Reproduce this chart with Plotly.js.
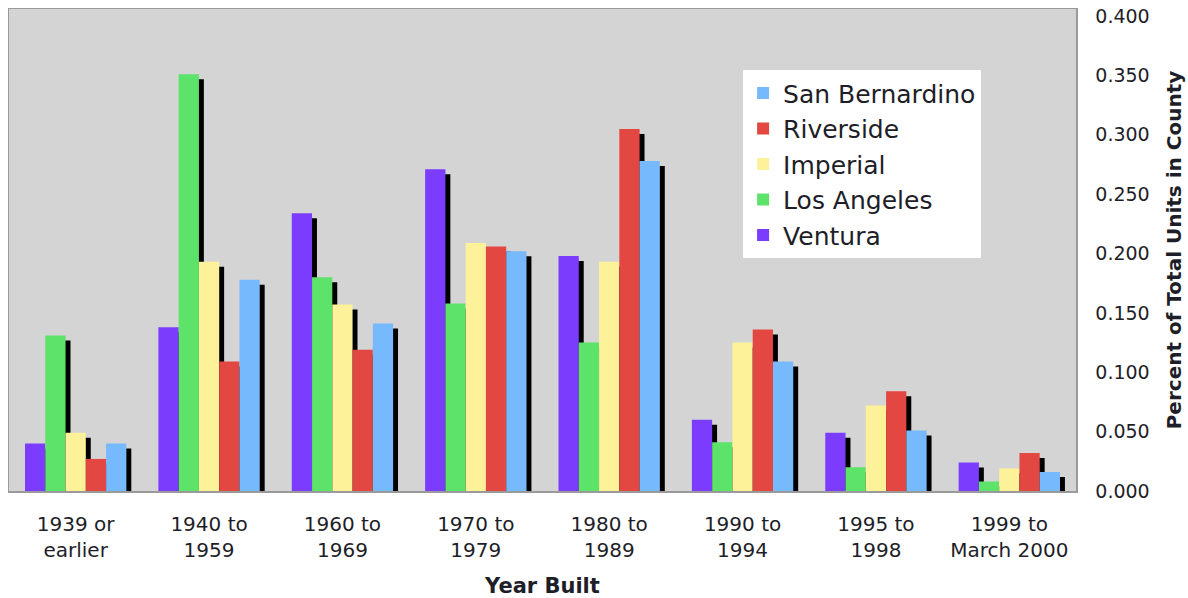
<!DOCTYPE html>
<html>
<head>
<meta charset="utf-8">
<script src="https://cdn.plot.ly/plotly-3.0.1.min.js"></script>
<style>html,body{margin:0;padding:0;background:#fff;}#chart{width:1188px;height:598px;}</style>
</head>
<body>
<div id="chart"></div>
<script>
const categories = ["1939 or<br>earlier", "1940 to<br>1959", "1960 to<br>1969", "1970 to<br>1979", "1980 to<br>1989", "1990 to<br>1994", "1995 to<br>1998", "1999 to<br>March 2000"];
const ventura       = [0.040, 0.138, 0.234, 0.271, 0.198, 0.060, 0.049, 0.024];
const losAngeles    = [0.131, 0.351, 0.180, 0.158, 0.125, 0.041, 0.020, 0.008];
const imperial      = [0.049, 0.193, 0.157, 0.209, 0.193, 0.125, 0.072, 0.019];
const riverside     = [0.027, 0.109, 0.119, 0.206, 0.305, 0.136, 0.084, 0.032];
const sanBernardino = [0.040, 0.178, 0.141, 0.202, 0.278, 0.109, 0.051, 0.016];
const yTicks = [0, 0.05, 0.1, 0.15, 0.2, 0.25, 0.3, 0.35, 0.4];

const seriesNames = ["Ventura", "Los Angeles", "Imperial", "Riverside", "San Bernardino"];
const seriesValues = [ventura, losAngeles, imperial, riverside, sanBernardino];
const seriesColors = ["#7c3cfd", "#5de36a", "#fdf29a", "#e34741", "#77b9fd"];

const traces = [];
// shadows (drawn on the base axes, underneath)
seriesValues.forEach((vals, i) => {
  traces.push({
    type: "bar", x: categories, y: vals, xaxis: "x", yaxis: "y",
    marker: {color: "#000000", line: {width: 0}},
    showlegend: false, hoverinfo: "skip", name: seriesNames[i] + " shadow"
  });
});
// main bars on overlay axes
seriesValues.forEach((vals, i) => {
  traces.push({
    type: "bar", x: categories, y: vals, xaxis: "x2", yaxis: "y2",
    name: seriesNames[i],
    marker: {color: seriesColors[i], line: {width: 0}}
  });
});

const yMax = 0.406;
const shadowDy = 0.0042;   // vertical shadow offset in data units (~5px)
const shadowDx = 0.037;    // horizontal shadow offset in category units (~5px)
const font = {family: "DejaVu Sans, Verdana, sans-serif", color: "#1e1e28"};

const layout = {
  width: 1188, height: 598,
  margin: {l: 9, r: 112, t: 9, b: 107},
  paper_bgcolor: "#ffffff",
  plot_bgcolor: "#d4d4d4",
  barmode: "group", bargap: 0.24, bargroupgap: 0,
  font: font,
  showlegend: true,
  legend: {
    x: 0.688, xanchor: "left", y: 0.873, yanchor: "top",
    bgcolor: "#ffffff", borderwidth: 0, traceorder: "reversed",
    font: {family: font.family, size: 25, color: "#1e1e28"},
    tracegroupgap: 0
  },
  xaxis: {
    type: "category", range: [-0.5 - shadowDx, 7.5 - shadowDx],
    showticklabels: false, showgrid: false, zeroline: false, ticks: "", showline: false, fixedrange: true
  },
  yaxis: {
    range: [shadowDy, yMax + shadowDy], showticklabels: false, showgrid: false,
    zeroline: false, ticks: "", showline: false
  },
  xaxis2: {
    type: "category", overlaying: "x", side: "bottom", range: [-0.5, 7.5],
    showgrid: false, zeroline: false, ticks: "",
    showline: true, mirror: true, linecolor: "#9a9a9a", linewidth: 1.5,
    ticklabelstandoff: 14,
    tickfont: {family: font.family, size: 20, color: "#1e1e28"},
    title: {text: "<b>Year Built</b>", font: {family: font.family, size: 21, color: "#1e1e28"}, standoff: 22}
  },
  yaxis2: {
    overlaying: "y", side: "right", range: [0, yMax],
    tickvals: yTicks, tickformat: ".3f",
    showgrid: false, zeroline: false, ticks: "",
    showline: true, mirror: true, linecolor: "#9a9a9a", linewidth: 1.5,
    ticklabelstandoff: 14,
    tickfont: {family: font.family, size: 19, color: "#1e1e28"},
    title: {text: "<b>Percent of Total Units in County</b>", font: {family: font.family, size: 20, color: "#1e1e28"}, standoff: 18}
  }
};

Plotly.newPlot("chart", traces, layout, {displayModeBar: false, staticPlot: true});
</script>
</body>
</html>
